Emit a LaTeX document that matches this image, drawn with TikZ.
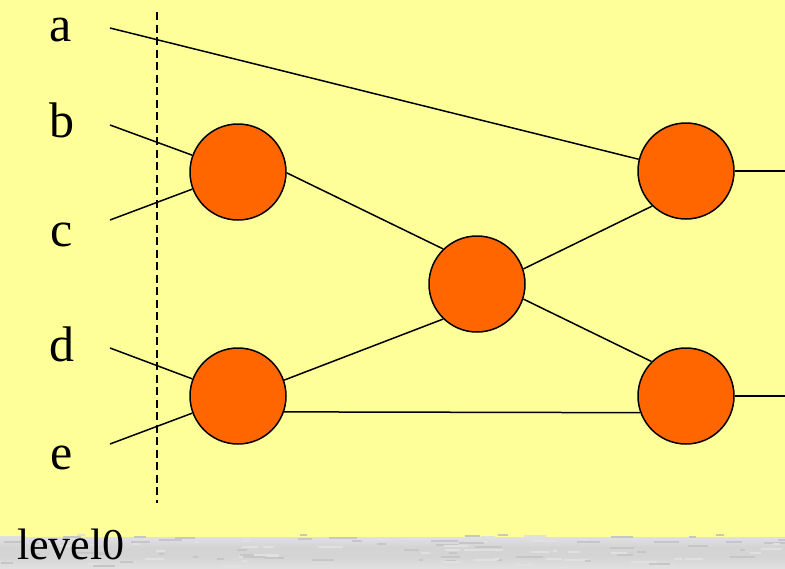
\documentclass[tikz,border=0pt]{standalone}
\usepackage{fontspec}
\setmainfont{Liberation Serif}
\definecolor{bgyellow}{HTML}{FFFF99}
\definecolor{nodeorange}{HTML}{FF6600}
\definecolor{stripgray}{HTML}{D4D4D4}
\definecolor{stripdark}{HTML}{C6C6C6}
\definecolor{striplight}{HTML}{E0E0E0}
\begin{document}
\begin{tikzpicture}[x=1pt,y=-1pt,
  neuron/.style={circle,draw=black,fill=nodeorange,line width=1.5pt,minimum size=96pt,inner sep=0pt},
  lbl/.style={anchor=base,font=\fontsize{50}{60}\selectfont,inner sep=0pt},
  wire/.style={line width=1.5pt,draw=black},
  cutline/.style={line width=1.5pt,draw=black,dash pattern=on 8pt off 4.5pt}]
% background
\useasboundingbox (0,0) rectangle (785,568);
\fill[bgyellow] (0,0) rectangle (785,568);
% textured bottom strip
\shade[top color=striplight,bottom color=stripgray] (0,537) rectangle (785,547);
\fill[stripgray] (0,547) rectangle (785,556);
\shade[top color=stripgray,bottom color=striplight] (0,556) rectangle (785,568);
\pgfmathsetseed{11}
\foreach \i in {1,...,110}{
  \pgfmathsetmacro{\xx}{rnd*785}
  \pgfmathsetmacro{\yy}{534+rnd*32}
  \pgfmathsetmacro{\ww}{4+rnd*24}
  \pgfmathsetmacro{\sh}{rnd}
  \ifdim\sh pt<0.5pt
    \fill[stripdark] (\xx,\yy) rectangle ++(\ww,2);
  \else
    \fill[striplight] (\xx,\yy) rectangle ++(\ww,2);
  \fi
}
\node[anchor=base west,font=\fontsize{44}{52}\selectfont,inner sep=0pt] (lv) at (17,559) {level0};
% labels
\node[lbl] (la) at (61,41) {a};
\node[lbl] (lb) at (62,137) {b};
\node[lbl] (lc) at (62,246) {c};
\node[lbl] (ld) at (62,361) {d};
\node[lbl] (le) at (62,469) {e};
% dashed separator
\coordinate (dt) at (157,12);
\coordinate (db) at (157,503);
\draw[cutline] (dt) -- (db);
% nodes
\node[neuron] (n1) at (238,172) {};
\node[neuron] (n2) at (238,396) {};
\node[neuron] (n3) at (477,284) {};
\node[neuron] (n4) at (686,171) {};
\node[neuron] (n5) at (686,396) {};
% input / output ends
\coordinate (ia) at (110,28);
\coordinate (ib) at (110,125);
\coordinate (ic) at (110,220);
\coordinate (id) at (110,348);
\coordinate (ie) at (110,444);
\coordinate (o1) at (785,171);
\coordinate (o2) at (785,396);
% connectors
\draw[wire] (ia) -- (n4);
\draw[wire] (ib) -- (n1);
\draw[wire] (ic) -- (n1);
\draw[wire] (id) -- (n2);
\draw[wire] (ie) -- (n2);
\draw[wire] (n1.-1) -- (n3.134);
\draw[wire] (n2.19) -- (n3.-134);
\draw[wire] (n2.-19.5) -- (n5.-160.5);
\draw[wire] (n3.18.4) -- (n4.-134);
\draw[wire] (n3.-18.4) -- (n5.135);
\draw[wire] (n4) -- (o1);
\draw[wire] (n5) -- (o2);
\end{tikzpicture}
\end{document}
